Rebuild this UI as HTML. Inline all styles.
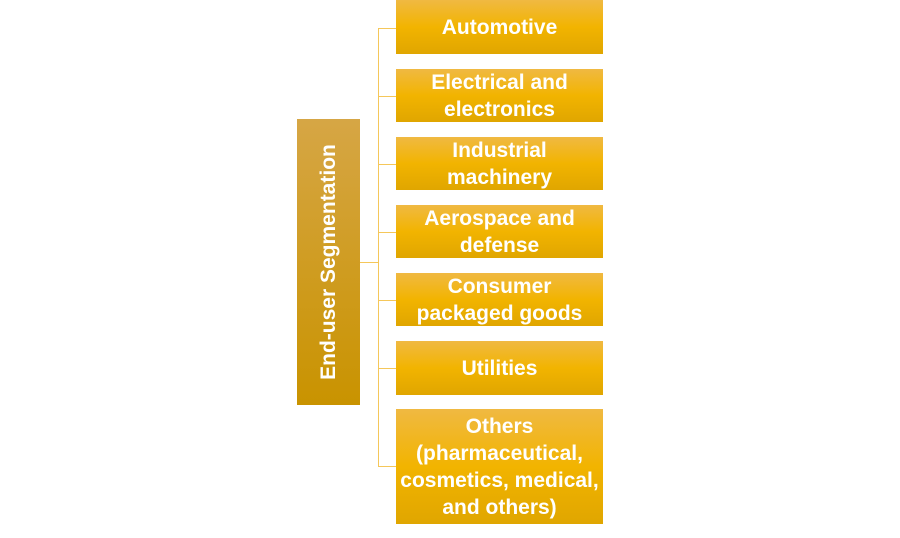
<!DOCTYPE html>
<html><head><style>
body{margin:0;width:900px;height:538px;background:#fff;position:relative;overflow:hidden;font-family:"Liberation Sans",sans-serif}
.b{position:absolute;left:396px;width:207px;display:flex;align-items:center;justify-content:center;text-align:center;color:#fff;font-weight:bold;font-size:21px;line-height:27px;background:linear-gradient(#f0b942,#f2b400 50%,#e0a600)}
.l{position:absolute;background:#f5c75a}
.left{position:absolute;left:297px;top:119px;width:63px;height:286px;background:linear-gradient(#d6a645,#c99300);}
.left span{position:absolute;left:50%;top:50%;transform:translate(-50%,-50%) rotate(-90deg);white-space:nowrap;color:#fff;font-weight:bold;font-size:21px}
</style></head><body>
<div class="left"><span>End-user Segmentation</span></div>
<div class="l" style="left:360px;top:262px;width:19px;height:1px"></div>
<div class="l" style="left:378px;top:28px;width:1px;height:439px"></div>
<div class="l" style="left:378px;top:28px;width:18px;height:1px"></div>
<div class="l" style="left:378px;top:96px;width:18px;height:1px"></div>
<div class="l" style="left:378px;top:164px;width:18px;height:1px"></div>
<div class="l" style="left:378px;top:232px;width:18px;height:1px"></div>
<div class="l" style="left:378px;top:300px;width:18px;height:1px"></div>
<div class="l" style="left:378px;top:368px;width:18px;height:1px"></div>
<div class="l" style="left:378px;top:466px;width:18px;height:1px"></div>
<div class="b" style="top:0;height:54px">Automotive</div>
<div class="b" style="top:69px;height:53px">Electrical and<br>electronics</div>
<div class="b" style="top:137px;height:53px">Industrial<br>machinery</div>
<div class="b" style="top:205px;height:53px">Aerospace and<br>defense</div>
<div class="b" style="top:273px;height:53px">Consumer<br>packaged goods</div>
<div class="b" style="top:341px;height:54px">Utilities</div>
<div class="b" style="top:409px;height:115px">Others<br>(pharmaceutical,<br>cosmetics, medical,<br>and others)</div>
</body></html>
